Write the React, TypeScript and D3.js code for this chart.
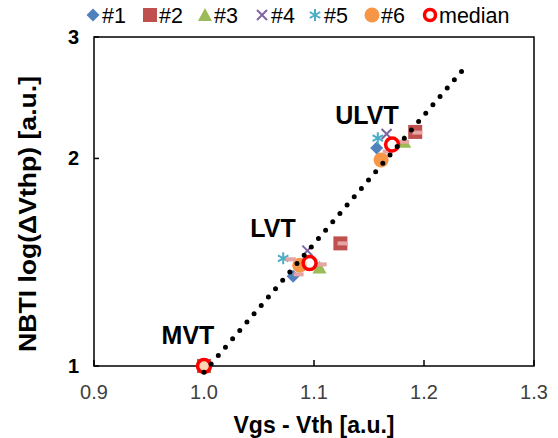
import React from "react";
import * as d3 from "d3";

// ---- data ----
const seriesNames = ["#1", "#2", "#3", "#4", "#5", "#6"];
const s1x = [1.0, 1.081, 1.157];
const s1y = [1.0, 1.349, 2.07];
const s2x = [1.0, 1.124, 1.192];
const s2y = [1.0, 1.506, 2.185];
const s3x = [1.0, 1.105, 1.182];
const s3y = [1.0, 1.39, 2.115];
const s4x = [1.0, 1.094, 1.166];
const s4y = [1.0, 1.47, 2.17];
const s5x = [1.0, 1.072, 1.158];
const s5y = [1.0, 1.433, 2.14];
const s6x = [1.0, 1.087, 1.161];
const s6y = [1.0, 1.40, 1.99];
const medianX = [1.0, 1.096, 1.171];
const medianY = [1.0, 1.41, 2.095];
const extraX = [1.079, 1.086, 1.107, 1.126, 1.167, 1.182, 1.194];
const extraY = [1.428, 1.358, 1.404, 1.506, 2.046, 2.115, 2.18];
const groupLabels = ["MVT", "LVT", "ULVT"];
const xTicks = [0.9, 1.0, 1.1, 1.2, 1.3];
const yTicks = [1, 2, 3];
const trendRange = [1.0, 1.24];

const colors = ["#4F81BD", "#C0504D", "#9BBB59", "#8064A2", "#4BACC6", "#F79646"];
const shapes = ["diamond", "square", "triangle", "x", "asterisk", "circle"];
const seriesX = [s1x, s2x, s3x, s4x, s5x, s6x];
const seriesY = [s1y, s2y, s3y, s4y, s5y, s6y];

const FONT = "'Liberation Sans', Arial, sans-serif";

function Marker({ shape, x, y, color }: { shape: string; x: number; y: number; color: string }) {
  switch (shape) {
    case "diamond":
      return <path d={`M${x},${y - 6.5}L${x + 6.5},${y}L${x},${y + 6.5}L${x - 6.5},${y}Z`} fill={color} />;
    case "square":
      return <rect x={x - 7} y={y - 7} width={14} height={14} fill={color} />;
    case "triangle":
      return <path d={`M${x},${y - 7}L${x + 7},${y + 6}L${x - 7},${y + 6}Z`} fill={color} />;
    case "x":
      return (
        <path d={`M${x - 5},${y - 5}L${x + 5},${y + 5}M${x + 5},${y - 5}L${x - 5},${y + 5}`} stroke={color} strokeWidth={2} fill="none" />
      );
    case "asterisk":
      return (
        <path
          d={`M${x},${y - 6}L${x},${y + 6}M${x - 5.2},${y - 3}L${x + 5.2},${y + 3}M${x + 5.2},${y - 3}L${x - 5.2},${y + 3}`}
          stroke={color}
          strokeWidth={2}
          fill="none"
        />
      );
    case "circle":
      return <circle cx={x} cy={y} r={7.5} fill={color} />;
    default:
      return null;
  }
}

export default function App() {
  const W = 558, H = 438;
  const x = d3.scaleLinear().domain([0.9, 1.3]).range([94, 534]);
  const y = d3.scaleLog().domain([1, 3]).range([366, 37]);

  // exponential fit (linear in log) through median points
  const lx = medianX;
  const ly = medianY.map((v) => Math.log(v));
  const mx = d3.mean(lx)!;
  const my = d3.mean(ly)!;
  const sxy = d3.sum(lx.map((v, i) => (v - mx) * (ly[i] - my)));
  const sxx = d3.sum(lx.map((v) => (v - mx) * (v - mx)));
  const slope = sxy / sxx;
  const intercept = my - slope * mx;
  const trendPts: [number, number][] = trendRange.map((v) => [v, Math.exp(intercept + slope * v)]);
  const line = d3.line<[number, number]>().x((d) => x(d[0])).y((d) => y(d[1]));

  const legendX = [93, 150, 205, 262, 315, 372, 430];
  const labelPos = [
    { lx: 188, ly: 344 },
    { lx: 273, ly: 237 },
    { lx: 367, ly: 124 },
  ];

  return (
    <svg width={W} height={H} style={{ position: "absolute", left: 0, top: 0, background: "#fff" }} fontFamily={FONT}>
      {/* frame */}
      <rect x={x(0.9)} y={y(3)} width={x(1.3) - x(0.9)} height={y(1) - y(3)} fill="none" stroke="#000" strokeWidth={1.5} />
      {/* x ticks */}
      {xTicks.map((t) => (
        <g key={t}>
          <line x1={x(t)} x2={x(t)} y1={y(1)} y2={y(1) - 6} stroke="#000" strokeWidth={1.5} />
          <text x={x(t)} y={399} textAnchor="middle" fontSize={20} fill="#404040">
            {t.toFixed(1)}
          </text>
        </g>
      ))}
      {/* y ticks */}
      {yTicks.map((t) => (
        <g key={t}>
          <line x1={x(0.9)} x2={x(0.9) + 5} y1={y(t)} y2={y(t)} stroke="#000" strokeWidth={1.5} />
          <text x={79} y={y(t) + 7} textAnchor="end" fontSize={20} fontWeight="bold" fill="#000">
            {t}
          </text>
        </g>
      ))}
      {/* axis titles */}
      <text x={314} y={433} textAnchor="middle" fontSize={23} fontWeight="bold">
        Vgs - Vth [a.u.]
      </text>
      <text
        transform={`translate(36,214) rotate(-90)`}
        textAnchor="middle"
        fontSize={23}
        fontWeight="bold"
        textLength={276}
        lengthAdjust="spacingAndGlyphs"
      >
        NBTI log(ΔVthp) [a.u.]
      </text>

      {/* series */}
      {seriesX.map((xs, si) =>
        xs.map((v, i) => <Marker key={`${si}-${i}`} shape={shapes[si]} x={x(v)} y={y(seriesY[si][i])} color={colors[si]} />)
      )}
      {extraX.map((v, i) => (
        <rect key={`e${i}`} x={x(v) - 5} y={y(extraY[i]) - 2} width={10} height={4} fill="#E6A4A4" />
      ))}
      {medianX.map((v, i) => (
        <circle key={`m${i}`} cx={x(v)} cy={y(medianY[i])} r={6.5} fill="#fff" fillOpacity={0.6} stroke="#FF0000" strokeWidth={3.5} />
      ))}
      {/* trend line */}
      <path d={line(trendPts)!} fill="none" stroke="#000" strokeWidth={5} strokeLinecap="round" strokeDasharray="0 11" />

      {/* group labels */}
      {groupLabels.map((g, i) => (
        <text key={g} x={labelPos[i].lx} y={labelPos[i].ly} textAnchor="middle" fontSize={25} fontWeight="bold">
          {g}
        </text>
      ))}

      {/* legend */}
      {seriesNames.map((n, i) => (
        <g key={n}>
          <Marker shape={shapes[i]} x={legendX[i]} y={15} color={colors[i]} />
          <text x={legendX[i] + 9} y={22.5} fontSize={21.5}>
            {n}
          </text>
        </g>
      ))}
      <circle cx={legendX[6]} cy={15} r={5.5} fill="#fff" stroke="#FF0000" strokeWidth={3.5} />
      <text x={legendX[6] + 9} y={22.5} fontSize={21.5}>
        median
      </text>
    </svg>
  );
}
